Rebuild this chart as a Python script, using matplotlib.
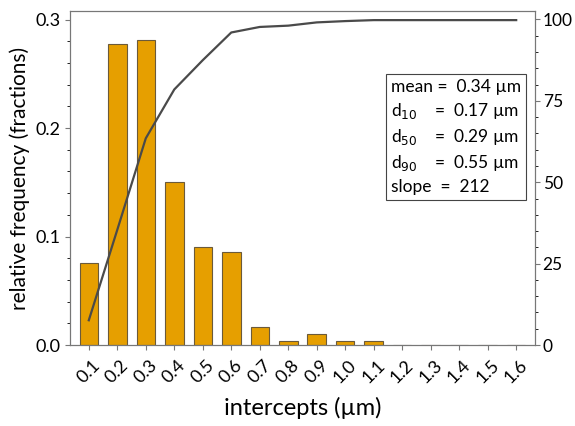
import matplotlib.pyplot as plt
from matplotlib.ticker import MultipleLocator

plt.rcParams['font.family'] = ['Lato', 'DejaVu Sans']

# data
sizes = [0.1, 0.2, 0.3, 0.4, 0.5, 0.6, 0.7, 0.8, 0.9, 1.0, 1.1, 1.2, 1.3, 1.4, 1.5, 1.6]
freq = [0.076, 0.278, 0.281, 0.150, 0.090, 0.086, 0.017, 0.004, 0.010, 0.004, 0.004,
        0, 0, 0, 0, 0]
cumulative = [7.6, 35.4, 63.5, 78.5, 87.5, 96.0, 97.7, 98.1, 99.1, 99.5, 99.8,
              99.8, 99.8, 99.8, 99.8, 99.8]
tick_labels = ["0.1", "0.2", "0.3", "0.4", "0.5", "0.6", "0.7", "0.8", "0.9",
               "1.0", "1.1", "1.2", "1.3", "1.4", "1.5", "1.6"]
stats = ("mean =  0.34 µm\n"
         "d$_{10}$    =  0.17 µm\n"
         "d$_{50}$    =  0.29 µm\n"
         "d$_{90}$    =  0.55 µm\n"
         "slope  =  212")

fig = plt.figure(figsize=(5.75, 4.26), dpi=100)
ax = fig.add_axes([70 / 575, 1 - 345 / 426, 465 / 575, 334 / 426])
ax.bar(sizes, freq, width=0.065, color="#E69F00", edgecolor="#6b5a3a", linewidth=0.8, zorder=2)
ax.set_xlim(0.034, 1.666)
ax.set_ylim(0, 0.308)
ax.set_xticks(sizes)
ax.set_xticklabels(tick_labels, rotation=45, ha="center", fontsize=13)
ax.yaxis.set_major_locator(MultipleLocator(0.1))
ax.yaxis.set_minor_locator(MultipleLocator(0.02))
ax.set_yticks([0.0, 0.1, 0.2, 0.3])
ax.set_yticklabels(["0.0", "0.1", "0.2", "0.3"], fontsize=13)
ax.set_xlabel("intercepts (µm)", fontsize=17, labelpad=8)
ax.set_ylabel("relative frequency (fractions)", fontsize=15, labelpad=4)
for s in ax.spines.values():
    s.set_color("#777777")
ax.tick_params(colors="#777777", labelcolor="black", direction="out")
ax.tick_params(axis="x", pad=5)

ax2 = ax.twinx()
ax2.plot(sizes, cumulative, color="#4a4a4a", linewidth=1.6, zorder=3)
ax2.set_ylim(0, 102.6)
ax2.yaxis.set_major_locator(MultipleLocator(25))
ax2.yaxis.set_minor_locator(MultipleLocator(5))
ax2.tick_params(colors="#777777", labelcolor="black", labelsize=12.5, pad=2)
for s in ax2.spines.values():
    s.set_color("#777777")

ax2.text(0.69, 0.795, stats, transform=ax.transAxes, fontsize=12.5, va="top", ha="left",
         linespacing=1.4,
         bbox=dict(boxstyle="square,pad=0.3", facecolor="white", edgecolor="#444444", linewidth=0.8))

fig.savefig("out.png", dpi=100)
